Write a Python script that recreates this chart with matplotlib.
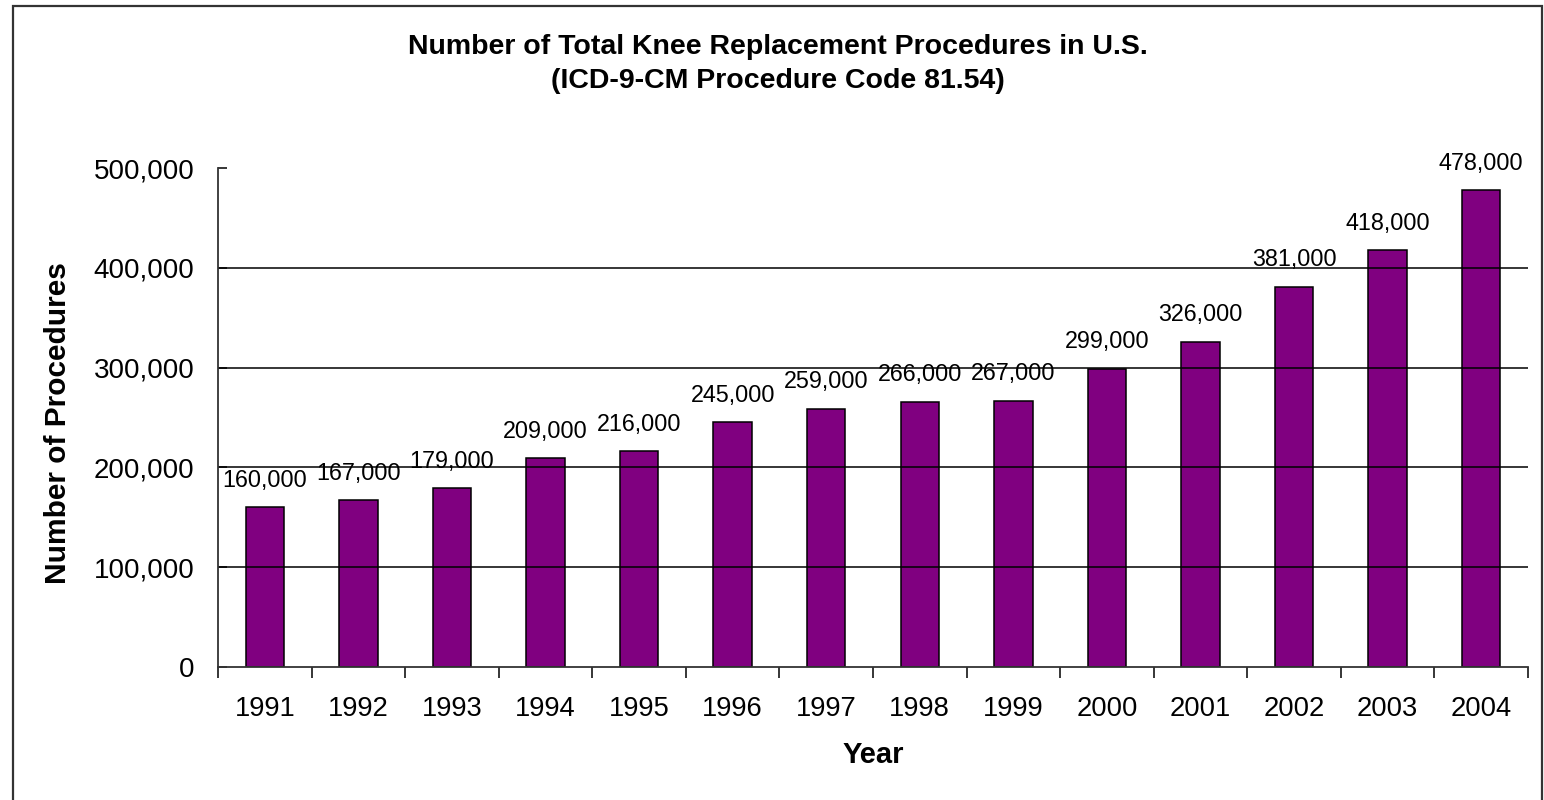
import matplotlib
matplotlib.use("Agg")
import matplotlib.pyplot as plt
from matplotlib.patches import Rectangle
from matplotlib.ticker import FuncFormatter, FixedLocator

years = ["1991", "1992", "1993", "1994", "1995", "1996", "1997",
         "1998", "1999", "2000", "2001", "2002", "2003", "2004"]
procedures = [160000, 167000, 179000, 209000, 216000, 245000, 259000,
              266000, 267000, 299000, 326000, 381000, 418000, 478000]
y_ticks = [0, 100000, 200000, 300000, 400000, 500000]

title_text = "Number of Total Knee Replacement Procedures in U.S.\n(ICD-9-CM Procedure Code 81.54)"
ylabel_text = "Number of Procedures"
xlabel_text = "Year"

plt.rcParams['font.family'] = ['Liberation Sans', 'DejaVu Sans']

fig = plt.figure(figsize=(15.44, 8.0), dpi=100)
ax = fig.add_axes([218/1544, 1-667/800, (1528-218)/1544, (667-168)/800])

x = list(range(len(years)))
ax.bar(x, procedures, width=0.41, color="#800080",
       edgecolor="black", linewidth=1.1, zorder=3)

ax.set_xlim(-0.5, len(years) - 0.5)
ax.set_ylim(y_ticks[0], y_ticks[-1])

# gridlines (not at 0 and top)
for g in y_ticks[1:-1]:
    ax.axhline(g, color="black", linewidth=1.1, zorder=4)

ax.yaxis.set_major_locator(FixedLocator(y_ticks))
ax.yaxis.set_major_formatter(FuncFormatter(lambda v, p: f"{int(v):,}"))
ax.tick_params(axis="y", direction="in", length=6.5, width=1.1,
               labelsize=20, pad=17, colors="black")

ax.set_xticks(x)
ax.set_xticklabels(years)
ax.set_xticks([i - 0.5 for i in range(len(years) + 1)], minor=True)
ax.tick_params(axis="x", which="major", length=0, labelsize=19.7, pad=21)
ax.tick_params(axis="x", which="minor", direction="out", length=8, width=1.1)

for s in ["top", "right"]:
    ax.spines[s].set_visible(False)
for s in ["left", "bottom"]:
    ax.spines[s].set_color("#333333")
    ax.spines[s].set_linewidth(1.3)
    ax.spines[s].set_zorder(5)

for xi, v in zip(x, procedures):
    ax.annotate(f"{v:,}", (xi, v), xytext=(0, 11), textcoords="offset points",
                ha="center", va="bottom", fontsize=16.8, zorder=2)

fig.text(58/1544, 1-423/800, ylabel_text, rotation=90, ha="center", va="center",
         fontsize=21.5, fontweight="bold")

fig.text(873/1544, 1-755/800, xlabel_text, ha="center", va="center",
         fontsize=21, fontweight="bold")

fig.text(778/1544, 1-64/800, title_text, ha="center", va="center",
         fontsize=20.5, fontweight="bold", linespacing=1.38)

fig.patches.append(Rectangle((13/1544, -0.05), (1542-13)/1544, (1-6/800) + 0.05,
                             transform=fig.transFigure, fill=False,
                             edgecolor="#333333", linewidth=1.6))

fig.savefig("out.png", dpi=100)
